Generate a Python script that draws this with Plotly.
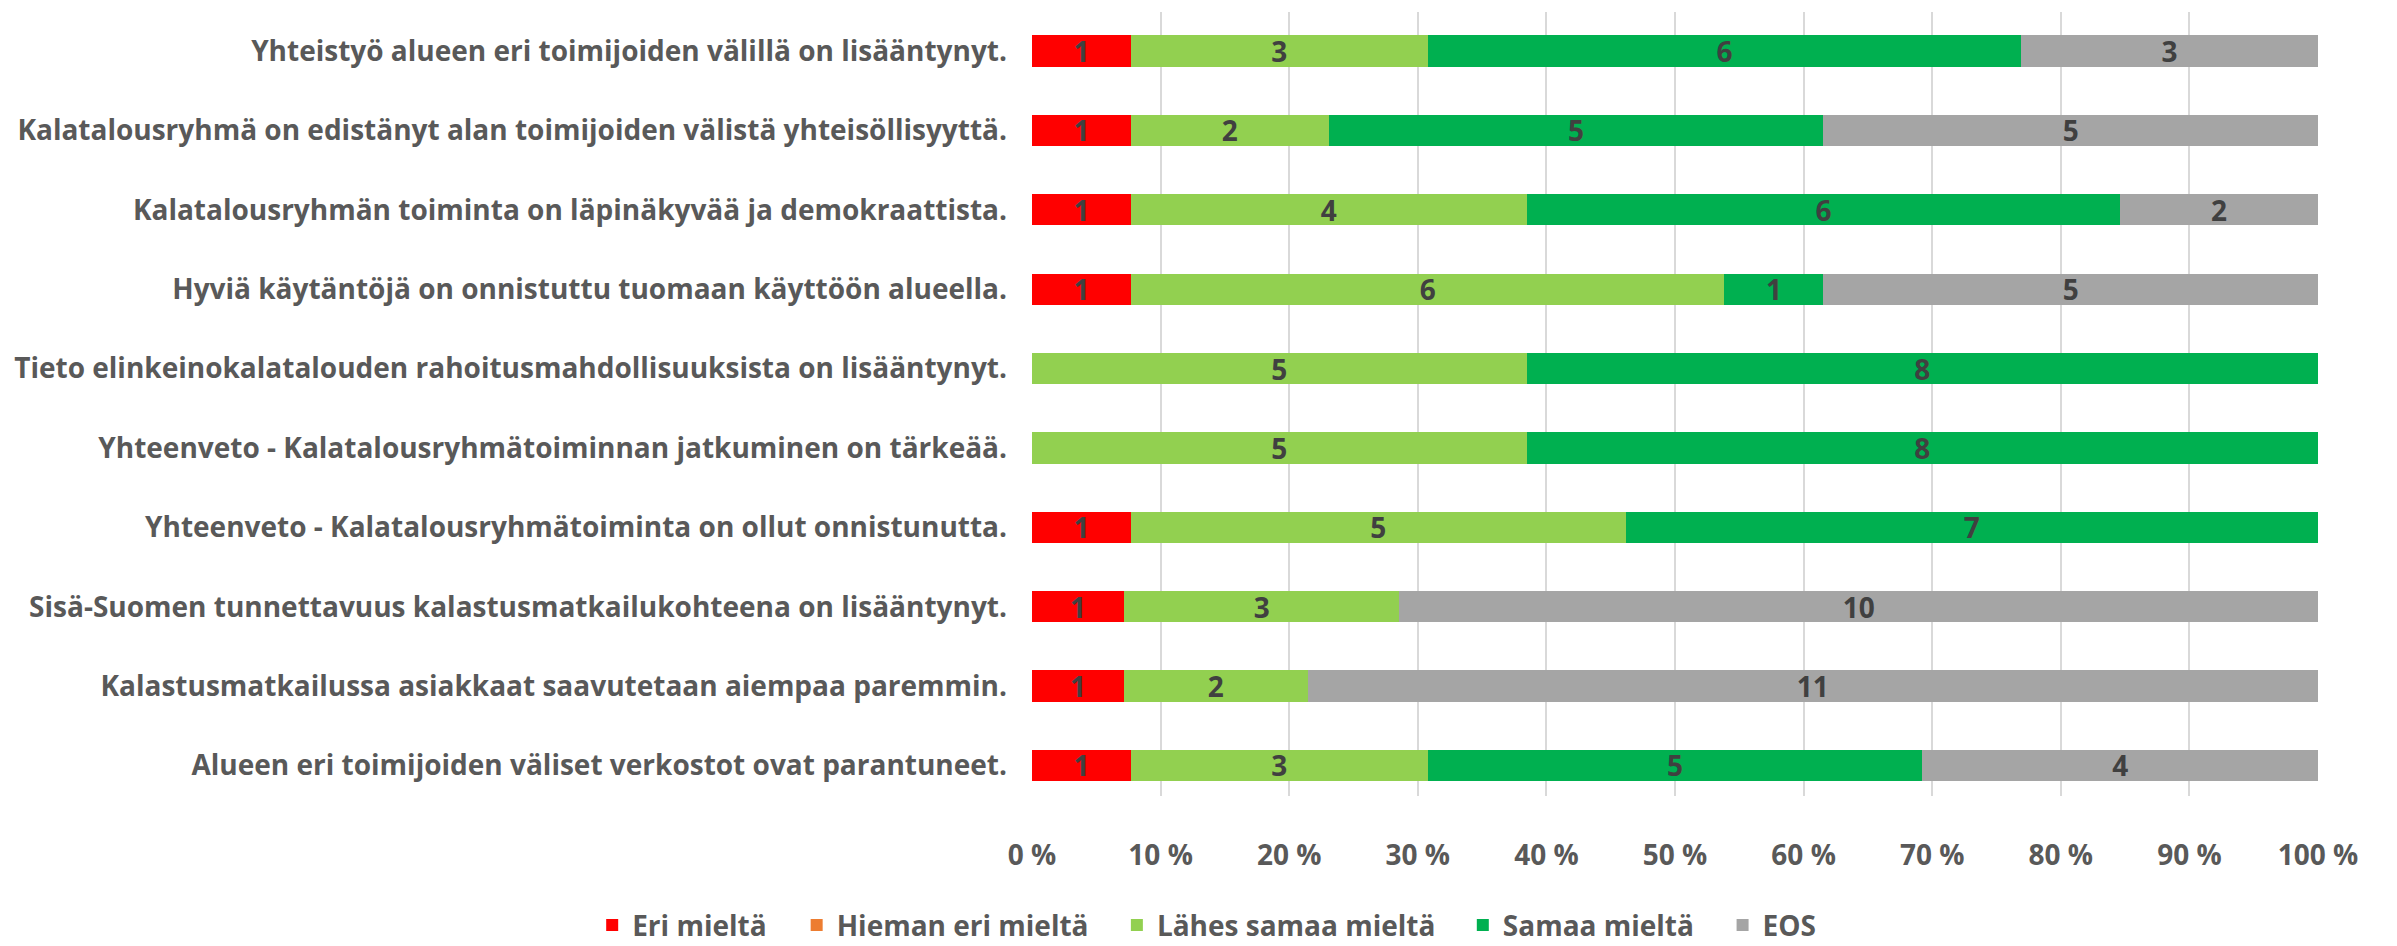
import plotly.graph_objects as go

categories = [
    "Yhteistyö alueen eri toimijoiden välillä on lisääntynyt.",
    "Kalatalousryhmä on edistänyt alan toimijoiden välistä yhteisöllisyyttä.",
    "Kalatalousryhmän toiminta on läpinäkyvää ja demokraattista.",
    "Hyviä käytäntöjä on onnistuttu tuomaan käyttöön alueella.",
    "Tieto elinkeinokalatalouden rahoitusmahdollisuuksista on lisääntynyt.",
    "Yhteenveto - Kalatalousryhmätoiminnan jatkuminen on tärkeää.",
    "Yhteenveto - Kalatalousryhmätoiminta on ollut onnistunutta.",
    "Sisä-Suomen tunnettavuus kalastusmatkailukohteena on lisääntynyt.",
    "Kalastusmatkailussa asiakkaat saavutetaan aiempaa paremmin.",
    "Alueen eri toimijoiden väliset verkostot ovat parantuneet.",
]

eri_mielta = [1, 1, 1, 1, 0, 0, 1, 1, 1, 1]
hieman_eri_mielta = [0, 0, 0, 0, 0, 0, 0, 0, 0, 0]
lahes_samaa_mielta = [3, 2, 4, 6, 5, 5, 5, 3, 2, 3]
samaa_mielta = [6, 5, 6, 1, 8, 8, 7, 0, 0, 5]
eos = [3, 5, 2, 5, 0, 0, 0, 10, 11, 4]

series_names = ["Eri mieltä", "Hieman eri mieltä", "Lähes samaa mieltä", "Samaa mieltä", "EOS"]
series_values = [eri_mielta, hieman_eri_mielta, lahes_samaa_mielta, samaa_mielta, eos]
series_colors = ["#FF0000", "#ED7D31", "#92D050", "#00B050", "#A5A5A5"]

tick_vals = [0, 10, 20, 30, 40, 50, 60, 70, 80, 90, 100]
tick_text = ["0 %", "10 %", "20 %", "30 %", "40 %", "50 %", "60 %", "70 %", "80 %", "90 %", "100 %"]

# horizontal placement of each legend entry (paper x, relative to the plot area)
legend_x = [-0.342, -0.183, 0.066, 0.335, 0.537]

FONT = "'Open Sans', Lato, sans-serif"
FS = 28

fig = go.Figure()
legend_ids = ["legend"] + [f"legend{i}" for i in range(2, len(series_names) + 1)]
for name, vals, col, lid in zip(series_names, series_values, series_colors, legend_ids):
    fig.add_trace(go.Bar(
        y=categories,
        x=vals,
        name=name,
        legend=lid,
        orientation="h",
        marker=dict(color=col, line=dict(width=0)),
        text=[str(v) if v else "" for v in vals],
        textposition="inside",
        insidetextanchor="middle",
        textangle=0,
        textfont=dict(family=FONT, size=FS, color="#404040", weight="bold"),
        hoverinfo="x+y+name",
    ))

legend_style = dict(
    orientation="h",
    xanchor="left",
    y=-0.165,
    yanchor="middle",
    font=dict(family=FONT, size=FS, color="#595959", weight="bold"),
    bgcolor="rgba(0,0,0,0)",
)

fig.update_layout(
    width=2397,
    height=946,
    barmode="stack",
    barnorm="percent",
    bargap=0.606,
    plot_bgcolor="white",
    paper_bgcolor="white",
    margin=dict(l=1024, r=87, t=4, b=139),
    uniformtext=dict(mode="show", minsize=FS),
    font=dict(family=FONT, size=FS, color="#595959", weight="bold"),
    showlegend=True,
)
for lid, lx in zip(legend_ids, legend_x):
    fig.update_layout({lid: dict(x=lx, **legend_style)})

fig.update_xaxes(
    range=[0, 100],
    tickvals=tick_vals,
    ticktext=tick_text,
    showgrid=True,
    gridcolor="#D9D9D9",
    gridwidth=2,
    zeroline=False,
    showline=False,
    ticks="outside",
    ticklen=34,
    tickcolor="rgba(0,0,0,0)",
    tickfont=dict(family=FONT, size=FS, color="#595959", weight="bold"),
    fixedrange=True,
)

fig.update_yaxes(
    type="category",
    categoryorder="array",
    categoryarray=categories,
    range=[9.385, -0.492],
    showgrid=False,
    zeroline=False,
    showline=False,
    ticks="",
    ticklabelstandoff=24,
    tickfont=dict(family=FONT, size=FS, color="#595959", weight="bold"),
    fixedrange=True,
)

fig.write_html("out.html")
